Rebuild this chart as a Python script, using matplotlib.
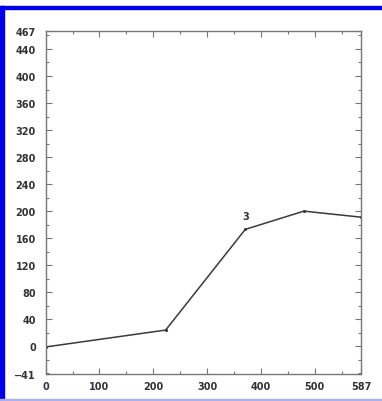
import matplotlib.pyplot as plt
from matplotlib.patches import Rectangle
from matplotlib.ticker import MultipleLocator

x_vals = [0, 223, 371, 480, 587]
y_vals = [-1, 24, 173, 200, 191]
point_labels = ["", "", "3", "", ""]

x_ticks = [0, 100, 200, 300, 400, 500, 587]
y_ticks = [-41, 0, 40, 80, 120, 160, 200, 240, 280, 320, 360, 400, 440, 467]

fig = plt.figure(figsize=(3.82, 4.02), dpi=100)
ax = fig.add_axes([0.1196, 0.0672, 0.8267, 0.8539])

ax.plot(x_vals, y_vals, color="#3a3a3a", linewidth=1.1, marker=".", markersize=2.5)
for xv, yv, lab in zip(x_vals, y_vals, point_labels):
    if lab:
        ax.annotate(lab, (xv, yv), xytext=(0, 6), textcoords="offset points",
                    ha="center", va="bottom", fontsize=7, fontweight="bold", color="#333333")

ax.set_xlim(0, 587)
ax.set_ylim(-41, 467)
ax.set_xticks(x_ticks)
ax.set_yticks(y_ticks)
ax.xaxis.set_minor_locator(MultipleLocator(50))
ax.yaxis.set_minor_locator(MultipleLocator(20))
ax.tick_params(which="both", direction="in", top=True, right=True, colors="#777777",
               labelcolor="#333333", labelsize=7)
ax.tick_params(which="major", length=4, width=0.8)
ax.tick_params(which="minor", length=2, width=0.8)
ax.tick_params(axis="y", pad=7)
ax.tick_params(axis="x", pad=5)
for lbl in ax.get_xticklabels() + ax.get_yticklabels():
    lbl.set_fontweight("bold")
for sp in ax.spines.values():
    sp.set_color("#777777")
    sp.set_linewidth(1.0)

# frame around the picture
fig.patches.append(Rectangle((0, 1 - 10 / 402), 1, 3 / 402, transform=fig.transFigure,
                             color="#0000ee", zorder=10))
fig.patches.append(Rectangle((0, 0), 4 / 382, 1 - 7 / 402, transform=fig.transFigure,
                             color="#0000ee", zorder=10))
fig.patches.append(Rectangle((0, 1 / 402), 1, 1.5 / 402, transform=fig.transFigure,
                             color="#aab0f0", zorder=10))

fig.savefig("out.png", dpi=100)
